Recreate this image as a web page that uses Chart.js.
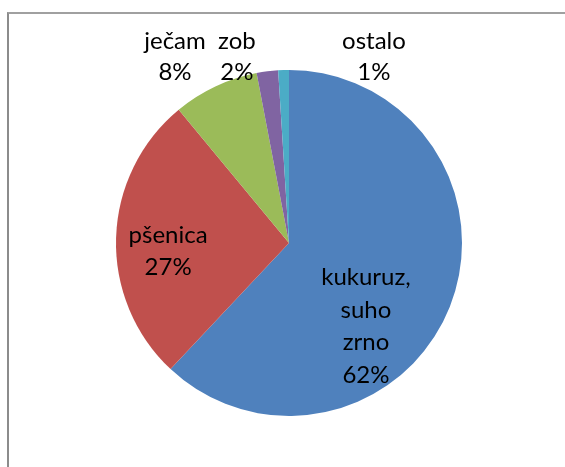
<!DOCTYPE html>
<html>
<head>
<meta charset="utf-8">
<script src="https://cdn.jsdelivr.net/npm/chart.js@4"></script>
<style>
  html, body { margin: 0; padding: 0; background: #fff; overflow: hidden; }
  #wrap { position: relative; width: 565px; height: 467px; }
  #frame { position: absolute; left: 7px; top: 12px; width: 600px; height: 500px;
           border-left: 2px solid #8c8c8c; border-top: 2px solid #a0a0a0; }
  canvas { position: absolute; left: 0; top: 0; }
</style>
</head>
<body>
<div id="wrap">
  <div id="frame"></div>
  <canvas id="myChart" width="565" height="467"></canvas>
</div>
<script>
// data
var categories = ['kukuruz, suho zrno', 'pšenica', 'ječam', 'zob', 'ostalo'];
var values = [62, 27, 8, 2, 1];
var colors = ['#4F81BD', '#C0504D', '#9BBB59', '#8064A2', '#4BACC6'];

// where each label sits: offset from pie centre in radii, first line baseline
var labelPos = [
    { fx: 0.445, fy: 0.243, wrap: true, lh: 32.5 },
    { fx: -0.699, fy: 0.0, lh: 32 },
    { fx: -0.659, fy: -1.121, lh: 31 },
    { fx: -0.301, fy: -1.121, lh: 31 },
    { fx: 0.491, fy: -1.121, lh: 31 }
];

var pieLabels = {
    id: 'pieLabels',
    afterDatasetsDraw: function(chart) {
        var ctx = chart.ctx;
        var meta = chart.getDatasetMeta(0);
        var arc0 = meta.data[0];
        var cx = arc0.x, cy = arc0.y, r = arc0.outerRadius;
        var total = values.reduce(function(a, b) { return a + b; }, 0);
        ctx.save();
        ctx.font = '24px Lato';
        ctx.fillStyle = '#000';
        ctx.textAlign = 'center';
        ctx.textBaseline = 'alphabetic';
        categories.forEach(function(name, i) {
            var p = labelPos[i];
            var lines = p.wrap ? name.split(' ') : [name];
            lines.push(Math.round(values[i] / total * 100) + '%');
            var x = cx + p.fx * r;
            var y = cy + p.fy * r;
            lines.forEach(function(t, k) {
                ctx.fillText(t, x, y + k * p.lh);
            });
        });
        ctx.restore();
    }
};

var ctx = document.getElementById('myChart').getContext('2d');
var myChart = new Chart(ctx, {
    type: 'pie',
    data: {
        labels: categories,
        datasets: [{
            data: values,
            backgroundColor: colors,
            borderWidth: 0
        }]
    },
    options: {
        responsive: false,
        animation: false,
        layout: {
            padding: { left: 116, right: 103, top: 70, bottom: 51 }
        },
        plugins: {
            legend: { display: false },
            tooltip: { enabled: false }
        }
    },
    plugins: [pieLabels]
});
</script>
</body>
</html>
